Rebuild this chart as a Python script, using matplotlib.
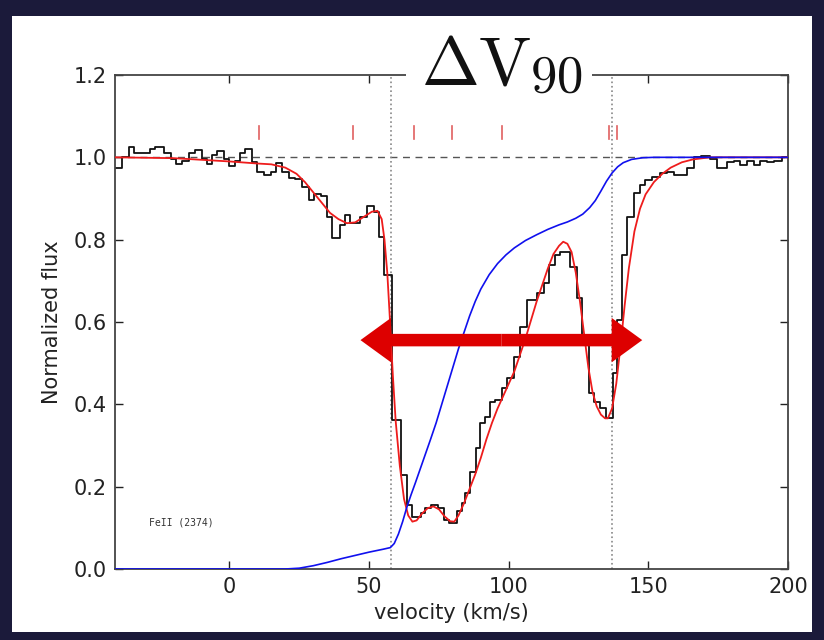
import numpy as np
import matplotlib
matplotlib.use("Agg")
import matplotlib.pyplot as plt
from matplotlib.patches import Rectangle

# ----------------------
# data
# ----------------------
# binned spectrum: left bin edges and flux in each bin
hist_edges = [-41, -38.5, -36, -34.2, -31.3, -28.3, -26.5, -23.5, -21.1, -19.3,
              -16.9, -14.6, -12.2, -9.8, -8.0, -6.2, -4.4, -2.0, -0.2, 2.1,
              3.9, 5.7, 8.1, 9.9, 12.3, 14.7, 16.5, 18.9, 21.2, 23.6,
              26.0, 28.4, 30.2, 32.6, 35.0, 36.8, 39.7, 41.5, 43.3, 46.9,
              49.3, 51.6, 53.6, 55.3, 58.3, 61.4, 63.6, 65.4, 68.4, 70.0,
              72.0, 74.5, 76.7, 78.5, 81.5, 83.3, 84.5, 86.3, 88.1, 89.8,
              91.6, 93.4, 95.2, 97.6, 99.4, 101.8, 104.1, 106.5, 108.3, 110.1,
              112.5, 114.3, 116.7, 118.5, 122.0, 124.4, 126.2, 128.6, 130.4, 132.8,
              135.0, 137.3, 138.6, 140.4, 142.3, 144.7, 147.1, 148.9, 151.3, 154.3,
              156.7, 159.0, 161.5, 163.9, 166.3, 168.7, 172.2, 174.5, 178.1, 180.5,
              182.9, 185.3, 187.7, 190.1, 192.5, 194.9, 197.9, 200.0]
hist_flux = [0.975, 1.0, 1.025, 1.01, 1.01, 1.02, 1.025, 1.01, 0.995, 0.983,
             0.99, 1.01, 1.018, 0.995, 0.985, 1.005, 1.015, 0.995, 0.98, 0.99,
             1.01, 1.02, 0.988, 0.965, 0.957, 0.965, 0.986, 0.965, 0.95, 0.948,
             0.928, 0.896, 0.91, 0.906, 0.856, 0.804, 0.835, 0.86, 0.84, 0.855,
             0.882, 0.868, 0.807, 0.715, 0.362, 0.228, 0.155, 0.127, 0.135, 0.148,
             0.155, 0.148, 0.119, 0.111, 0.14, 0.16, 0.184, 0.236, 0.294, 0.354,
             0.37, 0.406, 0.41, 0.44, 0.464, 0.516, 0.589, 0.653, 0.653, 0.67,
             0.694, 0.738, 0.763, 0.771, 0.734, 0.658, 0.556, 0.427, 0.406, 0.39,
             0.367, 0.476, 0.605, 0.763, 0.856, 0.913, 0.933, 0.945, 0.953, 0.961,
             0.965, 0.957, 0.957, 0.974, 1.0, 1.004, 0.996, 0.974, 0.988, 0.99,
             0.982, 0.99, 0.982, 0.99, 0.988, 0.99, 1.0]

# voigt profile fit (red)
fit_v = [-41, -20, 0, 10, 15, 20, 24, 27, 30, 33, 36, 39, 42, 45, 48, 51, 53,
         54.5, 55.5, 56.5, 57.5, 58.5, 59.5, 61, 62.5, 64, 65.5, 67, 69, 71, 73,
         75, 77, 79, 80.5, 82, 84, 86, 88, 90, 92, 94, 96, 98, 100, 102, 104,
         106, 108, 110, 112, 114, 116, 118, 119.5, 121, 122.5, 124, 125.5, 127,
         128.5, 130, 131.5, 133, 134.5, 135.5, 137, 138.5, 140, 141.5, 143, 145,
         147, 149, 152, 155, 158, 162, 166, 172, 200]
fit_f = [1.0, 0.998, 0.99, 0.985, 0.983, 0.975, 0.96, 0.94, 0.915, 0.89, 0.865,
         0.85, 0.84, 0.842, 0.855, 0.868, 0.87, 0.85, 0.80, 0.72, 0.60, 0.47,
         0.36, 0.25, 0.17, 0.13, 0.115, 0.118, 0.135, 0.148, 0.152, 0.145, 0.128,
         0.116, 0.115, 0.13, 0.16, 0.195, 0.23, 0.27, 0.315, 0.355, 0.39, 0.42,
         0.45, 0.48, 0.52, 0.56, 0.605, 0.65, 0.69, 0.73, 0.765, 0.785, 0.795,
         0.79, 0.77, 0.72, 0.65, 0.57, 0.49, 0.43, 0.395, 0.375, 0.366, 0.366,
         0.39, 0.45, 0.54, 0.64, 0.73, 0.82, 0.875, 0.91, 0.94, 0.96, 0.975,
         0.988, 0.995, 1.0, 1.0]

# cumulative optical depth (blue)
cum_v = [-41, 20, 25, 30, 35, 40, 45, 50, 55, 57.6, 59.0, 60.5, 62, 63.5, 65,
         66.6, 68.4, 70.2, 72, 74, 76, 78, 80, 82, 84, 86, 88, 90, 93, 96, 99,
         102, 106, 110, 114, 118, 121, 124, 126.5, 129, 131, 133, 135, 137,
         139, 141, 144, 148, 152, 200]
cum_f = [0.0, 0.0, 0.002, 0.008, 0.016, 0.025, 0.033, 0.041, 0.048, 0.052, 0.062,
         0.085, 0.115, 0.15, 0.18, 0.21, 0.245, 0.28, 0.315, 0.355, 0.40, 0.445,
         0.49, 0.535, 0.575, 0.615, 0.65, 0.68, 0.715, 0.742, 0.763, 0.78, 0.798,
         0.812, 0.825, 0.836, 0.843, 0.852, 0.862, 0.878, 0.895, 0.918, 0.942,
         0.962, 0.977, 0.987, 0.995, 0.999, 1.0, 1.0]

# component positions (red ticks) and delta v90 limits
comp_v = [10.4, 44.4, 66.2, 79.8, 97.7, 136.0, 138.9]
v90_lo, v90_hi = 57.8, 137.0

# ----------------------
# figure
# ----------------------
plt.rcParams["mathtext.fontset"] = "cm"

fig = plt.figure(figsize=(8.24, 6.4), dpi=100)
fig.patch.set_facecolor("#1b1a3a")
# white slide panel behind everything
fig.patches.append(Rectangle((12 / 824, 8 / 640), 800 / 824, 616 / 640,
                             transform=fig.transFigure, facecolor="white",
                             edgecolor="none", zorder=-10))

ax = fig.add_axes([115 / 824, 1 - 569 / 640, 673 / 824, 494 / 640])
ax.set_facecolor("none")

ax.axhline(1.0, color="#555555", ls=(0, (5, 4)), lw=1.0, zorder=1)
for v in (v90_lo, v90_hi):
    ax.axvline(v, color="#888888", ls=":", lw=1.2, zorder=1)

ax.step(hist_edges, hist_flux + [hist_flux[-1]], where="post",
        color="#111111", lw=1.3, zorder=2)
ax.plot(fit_v, fit_f, color="#ee1c1c", lw=1.3, zorder=3)
ax.plot(cum_v, cum_f, color="#1010ee", lw=1.2, zorder=3)

for v in comp_v:
    ax.plot([v, v], [1.045, 1.075], color="#e06060", lw=1.2)

ax.text(-29, 0.114, "FeII (2374)", family="DejaVu Sans Mono", fontsize=7,
        color="#333333", va="center")

# double arrow for delta v90
arr_y = 0.556
mid = (46.9 + 147.8) / 2
for end in (46.9, 147.8):
    ax.annotate("", xy=(end, arr_y), xytext=(mid, arr_y),
                arrowprops=dict(arrowstyle="simple,head_length=1.1,head_width=1.6,tail_width=0.45",
                                mutation_scale=20, color="#dd0000", lw=0,
                                shrinkA=0, shrinkB=0),
                zorder=5)

ax.set_xlim(-41, 200)
ax.set_ylim(0, 1.2)
ax.set_xticks([0, 50, 100, 150, 200])
ax.set_yticks([0.0, 0.2, 0.4, 0.6, 0.8, 1.0, 1.2])
ax.set_yticklabels(["0.0", "0.2", "0.4", "0.6", "0.8", "1.0", "1.2"])
ax.tick_params(direction="in", top=True, right=True, length=6, width=1,
               labelsize=15, colors="#222222", pad=6)
for s in ax.spines.values():
    s.set_color("#444444")
    s.set_linewidth(1.3)

ax.set_xlabel("velocity (km/s)", fontsize=15, color="#222222", labelpad=4)
ax.set_ylabel("Normalized flux", fontsize=15, color="#222222", labelpad=8)

# big title sitting on the top spine (white box hides the spine behind it)
fig.patches.append(Rectangle((406 / 824, 1 - 108 / 640), 186 / 824, 70 / 640,
                             transform=fig.transFigure, facecolor="white",
                             edgecolor="none", zorder=9))
fig.text(421 / 824, 1 - 85 / 640, r"$\Delta\mathrm{V}$", fontsize=50,
         ha="left", va="baseline", color="#111111", zorder=10)
fig.text(530 / 824, 1 - 92 / 640, r"$\mathrm{90}$", fontsize=38,
         ha="left", va="baseline", color="#111111", zorder=10)

fig.savefig("out.png", dpi=100, facecolor=fig.get_facecolor())
